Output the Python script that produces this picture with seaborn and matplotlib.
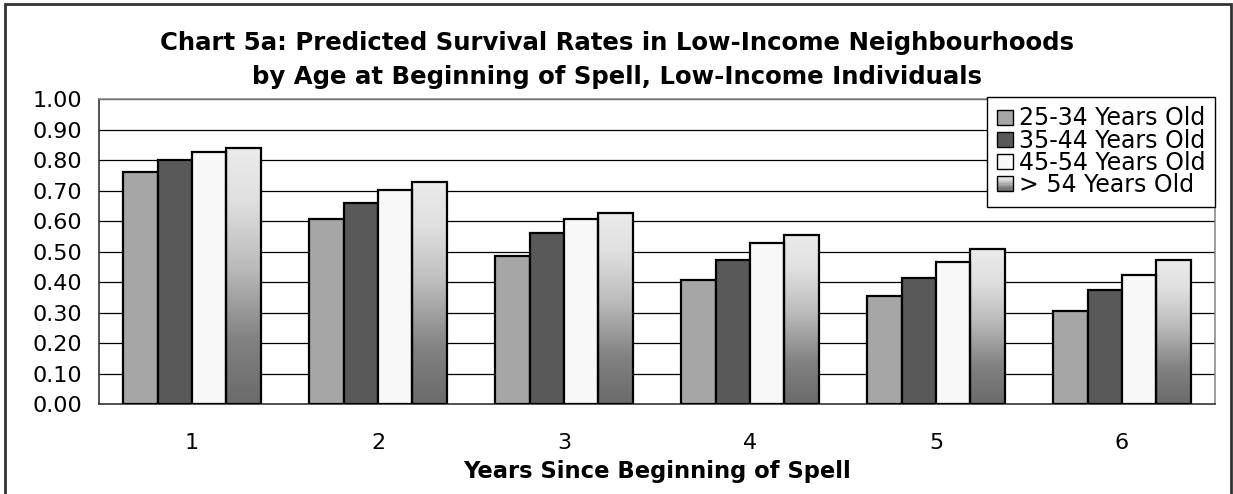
import numpy as np
import pandas as pd
import matplotlib
matplotlib.use("Agg")
import matplotlib.pyplot as plt
from matplotlib.colors import LinearSegmentedColormap
from matplotlib.patches import Rectangle
from matplotlib.legend_handler import HandlerBase
import seaborn as sns

# ---- data -------------------------------------------------------------
years = ["1", "2", "3", "4", "5", "6"]
age_groups = ["25-34 Years Old", "35-44 Years Old", "45-54 Years Old", "> 54 Years Old"]
age_25_34 = [0.760, 0.607, 0.486, 0.407, 0.355, 0.304]
age_35_44 = [0.800, 0.658, 0.562, 0.472, 0.413, 0.375]
age_45_54 = [0.826, 0.703, 0.606, 0.527, 0.466, 0.422]
age_55_up = [0.839, 0.729, 0.625, 0.553, 0.507, 0.473]
y_ticks = [0.0, 0.1, 0.2, 0.3, 0.4, 0.5, 0.6, 0.7, 0.8, 0.9, 1.0]

title = ("Chart 5a: Predicted Survival Rates in Low-Income Neighbourhoods\n"
         "by Age at Beginning of Spell, Low-Income Individuals")
x_label = "Years Since Beginning of Spell"

rows = []
for grp, vals in zip(age_groups, [age_25_34, age_35_44, age_45_54, age_55_up]):
    for yr, v in zip(years, vals):
        rows.append({"Year": yr, "Age": grp, "Rate": v})
df = pd.DataFrame(rows)

# ---- style ------------------------------------------------------------
sns.set_style("white")
plt.rcParams["font.family"] = ["DejaVu Sans"]
plt.rcParams["text.color"] = "black"
plt.rcParams["xtick.color"] = "black"
plt.rcParams["ytick.color"] = "black"
plt.rcParams["axes.labelcolor"] = "black"

solid_colors = ["#A6A6A6", "#595959", "#F8F8F8", "#B0B0B0"]
grad_cmap = LinearSegmentedColormap.from_list(
    "bar_grad",
    [(0.0, "#6A6A6A"), (0.25, "#828282"), (0.55, "#BDBDBD"),
     (0.8, "#E0E0E0"), (1.0, "#EBEBEB")])

fig = plt.figure(figsize=(12.33, 4.94), dpi=100)
ax = fig.add_axes([99 / 1233, 90 / 494, (1215 - 99) / 1233, (404 - 99) / 494])

sns.barplot(data=df, x="Year", y="Rate", hue="Age", order=years,
            hue_order=age_groups, palette=solid_colors, width=0.74,
            edgecolor="black", linewidth=1.6, saturation=1, ax=ax,
            legend=False, zorder=3)

# gradient fill for the oldest age group
for patch in ax.containers[3].patches:
    patch.set_facecolor("none")
    x0, y0 = patch.get_x(), patch.get_y()
    w, h = patch.get_width(), patch.get_height()
    grad = np.linspace(0, 1, 256).reshape(-1, 1)
    im = ax.imshow(grad, cmap=grad_cmap, origin="lower", aspect="auto",
                   extent=[x0, x0 + w, y0, y0 + h], zorder=2.9,
                   interpolation="bilinear")
    im.set_clip_path(patch)

ax.set_xlim(-0.5, len(years) - 0.5)
ax.set_ylim(0, 1.0)
ax.set_yticks(y_ticks)
ax.set_yticklabels([f"{t:.2f}" for t in y_ticks], fontsize=16)
ax.set_xticks(range(len(years)))
ax.set_xticklabels(years, fontsize=16)
ax.set_xticks(np.arange(-0.5, len(years), 1.0), minor=True)
ax.tick_params(axis="x", which="major", length=0, pad=21)
ax.tick_params(axis="x", which="minor", length=8, width=1, color="#333333",
               direction="out")
ax.tick_params(axis="y", which="major", length=8, width=1, color="#333333",
               direction="out", pad=4)
ax.grid(False)
for t in y_ticks[1:]:
    ax.axhline(t, color="black", lw=0.9, zorder=1)

for side in ["left", "bottom"]:
    ax.spines[side].set_color("#333333")
    ax.spines[side].set_linewidth(1.2)
for side in ["top", "right"]:
    ax.spines[side].set_visible(True)
    ax.spines[side].set_color("#8C8C8C")
    ax.spines[side].set_linewidth(1.2)
ax.set_axisbelow(False)

ax.set_ylabel("")
ax.set_xlabel(x_label, fontsize=16.3, fontweight="bold", labelpad=5)

fig.text(0.5, 1 - 60 / 494, title, ha="center", va="center",
         fontsize=17.6, fontweight="bold", linespacing=1.55)


# legend with a gradient swatch for the last entry
class GradientHandler(HandlerBase):
    def create_artists(self, legend, orig_handle, xdescent, ydescent,
                       width, height, fontsize, trans):
        n = 12
        arts = []
        for i in range(n):
            c = grad_cmap(1 - (i + 0.5) / n)
            arts.append(Rectangle((-xdescent, -ydescent + height * (n - 1 - i) / n),
                                  width, height / n, facecolor=c,
                                  edgecolor="none", transform=trans))
        arts.append(Rectangle((-xdescent, -ydescent), width, height,
                              facecolor="none", edgecolor="black", lw=1,
                              transform=trans))
        return arts


handles = [Rectangle((0, 0), 1, 1, facecolor=c, edgecolor="black", lw=1)
           for c in solid_colors[:3]]
grad_handle = Rectangle((0, 0), 1, 1)
handles.append(grad_handle)
leg = ax.legend(handles, age_groups, loc="upper right",
                bbox_to_anchor=(1.0, 1.008), fontsize=17, frameon=True,
                fancybox=False, framealpha=1, edgecolor="black",
                handlelength=0.66, handleheight=0.6, handletextpad=0.25,
                labelspacing=-0.08, borderpad=0.42, borderaxespad=0,
                handler_map={grad_handle: GradientHandler()})
leg.get_frame().set_linewidth(1.0)
leg.set_zorder(10)

# outer chart border
fig.patches.append(Rectangle((5 / 1233, -0.2), (1231 - 5) / 1233, 1.2 - 4 / 494,
                             transform=fig.transFigure, fill=False,
                             edgecolor="#333333", lw=2))

fig.savefig("out.png", dpi=100)
